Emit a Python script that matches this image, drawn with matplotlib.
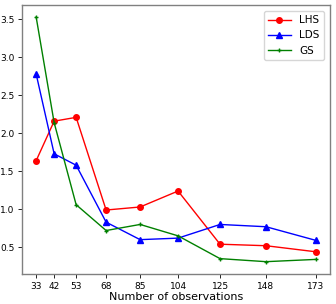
import matplotlib
matplotlib.use("Agg")
import matplotlib.pyplot as plt

obs = [33, 42, 53, 68, 85, 104, 125, 148, 173]
lhs = [1.64, 2.16, 2.21, 0.99, 1.03, 1.24, 0.54, 0.52, 0.44]
lds = [2.78, 1.73, 1.58, 0.83, 0.60, 0.62, 0.80, 0.77, 0.59]
gs = [3.53, 2.14, 1.06, 0.72, 0.80, 0.65, 0.35, 0.31, 0.34]
yticks = [0.5, 1.0, 1.5, 2.0, 2.5, 3.0, 3.5]

fig = plt.figure(figsize=(3.36, 3.04), dpi=100)
ax = fig.add_axes([0.066, 0.099, 0.916, 0.885])
ax.plot(obs, lhs, color="red", marker="o", markersize=4, linewidth=1.0, label="LHS")
ax.plot(obs, lds, color="blue", marker="^", markersize=4, linewidth=1.0, label="LDS")
ax.plot(obs, gs, color="green", marker="+", markersize=3.5, linewidth=1.0, label="GS")
ax.set_xticks(obs)
ax.set_xticklabels([str(o) for o in obs])
ax.set_yticks(yticks)
ax.tick_params(labelsize=6.5, length=3, width=0.6, pad=2.5)
ax.set_xlabel("Number of observations", fontsize=8, labelpad=1)
for s in ax.spines.values():
    s.set_color("#808080")
    s.set_linewidth(1.0)
ax.legend(loc="upper right", fontsize=7.5, handlelength=2.2, borderaxespad=0.6)
fig.savefig("out.png", dpi=100)
